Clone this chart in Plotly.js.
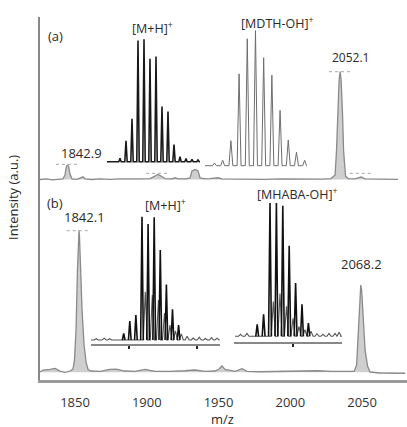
<!DOCTYPE html>
<html>
<head>
<meta charset="utf-8">
<script src="https://cdn.plot.ly/plotly-3.0.1.min.js"></script>
<style>html,body{margin:0;padding:0;background:#fff}#chart{width:407px;height:427px}</style>
</head>
<body>
<div id="chart"></div>
<script>
// ---------- DATA ----------
// Panel (a) full spectrum
const mzA = [1825.6,1829.8,1834.0,1838.1,1841.6,1843.0,1844.1,1844.8,1845.5,1846.5,1847.9,1851.4,1854.2,1855.6,1857.0,1861.8,1867.4,1874.4,1881.4,1888.3,1895.3,1902.3,1905.7,1907.8,1909.9,1912.7,1917.6,1919.7,1921.8,1927.3,1930.1,1931.5,1933.6,1935.7,1937.1,1940.6,1944.1,1949.6,1952.4,1961.5,1971.9,1982.4,1992.9,2003.3,2013.8,2022.1,2028.4,2031.2,2032.2,2032.9,2034.0,2034.7,2035.4,2036.4,2037.1,2038.5,2040.3,2045.1,2049.3,2052.1,2059.1,2066.0,2075.1];
const intA = [0,0.5,-0.3,0.5,0.6,4.2,12.5,13.4,12.5,5.1,0.6,0.2,1.4,2.5,0.6,0,0.5,0.1,0.5,0.2,0.5,0.9,2.8,4.6,3.2,0.8,0.6,1.6,0.6,0.5,1.4,7.9,9.3,7.9,1.4,0.5,0.8,1.6,0.5,0.3,0.5,0.2,0.5,0.2,0.5,0.3,0.9,4.2,27,60,92,100,92,60,27,3,0.9,0.6,2.3,0.6,0.3,0.5,0.2];
// Panel (b) full spectrum
const mzB = [1825.6,1827.7,1832.6,1836.1,1839.5,1843.0,1846.5,1848.6,1849.6,1850.7,1851.7,1852.4,1852.8,1853.1,1853.8,1854.9,1856.3,1857.7,1859.1,1861.1,1867.4,1874.4,1878.6,1884.8,1891.8,1898.8,1905.7,1916.2,1926.6,1933.6,1940.6,1947.6,1950.3,1952.4,1954.5,1961.5,1966.4,1969.9,1978.9,1989.4,1999.8,2010.3,2019.3,2028.4,2038.1,2044.4,2046.2,2047.2,2048.3,2049.1,2049.7,2050.7,2052.1,2053.8,2055.6,2062.5,2073.0,2080.0];
const intB = [0.2,1.6,2.0,2.8,0.9,0,0.9,2.3,8.6,29.7,71.9,94.4,100,95.6,75.4,43.8,19.2,7.2,2.0,0.9,0.6,2.1,2.3,0.9,0.6,2.1,0.7,0.6,1.1,1.6,0.6,0.9,2.3,4.4,2.0,0.7,2.5,0.7,0.4,0.6,0.4,0.6,1.1,0.7,0.6,0.6,5.1,22.7,50.8,61.3,57.8,36.8,15.7,4.4,0.2,-0.5,-0.7,-0.7];

// Peak marker bars (dotted) : m/z span and level
const barA_lo = [1836.7,1899.5,2027.0,2041.4];
const barA_hi = [1852.5,1916.2,2043.2,2056.5];
const barA_lvl = [14,5.7,100,5.7];
const barB_lo = [1844.2];
const barB_hi = [1859.3];
const barB_lvl = [99.5];

// Inset isotope patterns (offset in Da from reference isotope, relative intensity)
const isoA1_off = [-1,0,1,2,3,4,5,6,7,8,9,10,11,12];
const isoA1_int = [2.8,17,35,99,100,84,86,45,41,14,4,2.5,2,1.5];
const isoA2_off = [-5,-4,-3,-2,-1,0,1,2,3,4,5,6];
const isoA2_int = [2,4,18.5,68,94,100,80,67,41,19,10,4];
const isoB1_blk_off = [-3,-2,-1,0,1,2,3,4,5,6];
const isoB1_blk_int = [5.4,15.4,20.3,100,94,99.5,73,45,25,12];
const isoB1_gry_off = [-7.5,-6.2,-5.3,0.54,1.69,2.7,3.69,4.59,5.49,6.45,7.4,8.4,9.4,10.4,11.4,12.3];
const isoB1_gry_int = [1,1.5,1,39,36.5,32.4,21.9,12.2,7.3,5,3,1.6,2.2,1.2,2,1.5];
const isoB2_blk_off = [-2,-1,0,1,2,3,4,5,6];
const isoB2_blk_int = [9,16.5,100,100,98,68,40,24,10];
const isoB2_gry_off = [-4.6,-3.6,0.52,1.56,2.58,3.6,4.53,5.45,6.4,7.34,8.28,9.22,10.16,10.8];
const isoB2_gry_int = [1.5,2.2,26,32,22.5,13.5,7.5,5,3.8,1.9,1.5,2.2,2.2,3];
const isoB1_ticks = [-2.18,9.02];
const isoB2_ticks = [3.64];

const xTicks = [1850,1900,1950,2000,2050];
const peakLabelsA = ['1842.9','2052.1'];
const peakLabelsB = ['1842.1','2068.2'];

// ---------- HELPERS ----------
function profile(off, h, w, x0, x1){
  const xs=[x0], ys=[0];
  off.forEach((c,i)=>{ xs.push(c-w,c,c+w); ys.push(0,h[i],0); });
  xs.push(x1); ys.push(0);
  return {x:xs,y:ys};
}
function sticks(off, h, w){
  const xs=[], ys=[];
  off.forEach((c,i)=>{ xs.push(c-w,c,c+w,null); ys.push(0,h[i],0,null); });
  return {x:xs,y:ys};
}
function bars(lo,hi,lvl){
  const xs=[],ys=[];
  lo.forEach((v,i)=>{ xs.push(v,hi[i],null); ys.push(lvl[i],lvl[i],null); });
  return {x:xs,y:ys};
}

const FONT = 'Open Sans, Noto Sans, sans-serif';
const traces = [];
// main spectra
traces.push({x:mzA,y:intA,xaxis:'x',yaxis:'y2',mode:'lines',line:{color:'#8a8a8a',width:1.3},fill:'tozeroy',fillcolor:'rgba(160,160,160,0.5)',hoverinfo:'skip'});
traces.push({x:mzB,y:intB,xaxis:'x',yaxis:'y',mode:'lines',line:{color:'#8a8a8a',width:1.3},fill:'tozeroy',fillcolor:'rgba(160,160,160,0.5)',hoverinfo:'skip'});
const bA = bars(barA_lo,barA_hi,barA_lvl), bB = bars(barB_lo,barB_hi,barB_lvl);
traces.push({x:bA.x,y:bA.y,xaxis:'x',yaxis:'y2',mode:'lines',line:{color:'#b8b8b8',width:1.2,dash:'dot'},hoverinfo:'skip'});
traces.push({x:bB.x,y:bB.y,xaxis:'x',yaxis:'y',mode:'lines',line:{color:'#b8b8b8',width:1.2,dash:'dot'},hoverinfo:'skip'});
// insets
const a1 = profile(isoA1_off,isoA1_int,0.2,-3.17,12.33);
traces.push({x:a1.x,y:a1.y,xaxis:'x3',yaxis:'y3',mode:'lines',line:{color:'#1a1a1a',width:1.6},hoverinfo:'skip'});
const a2 = profile(isoA2_off,isoA2_int,0.24,-6.16,6.28);
traces.push({x:a2.x,y:a2.y,xaxis:'x4',yaxis:'y4',mode:'lines',line:{color:'#6e6e6e',width:1.0},hoverinfo:'skip'});
const b1g = profile(isoB1_gry_off,isoB1_gry_int,0.33,-8.36,12.74);
traces.push({x:b1g.x,y:b1g.y,xaxis:'x5',yaxis:'y5',mode:'lines',line:{color:'#555',width:1.1},hoverinfo:'skip'});
const b1k = sticks(isoB1_blk_off,isoB1_blk_int,0.22);
traces.push({x:b1k.x,y:b1k.y,xaxis:'x5',yaxis:'y5',mode:'lines',line:{color:'#111',width:1.6},hoverinfo:'skip'});
const b2g = profile(isoB2_gry_off,isoB2_gry_int,0.33,-5.47,10.94);
traces.push({x:b2g.x,y:b2g.y,xaxis:'x6',yaxis:'y6',mode:'lines',line:{color:'#555',width:1.1},hoverinfo:'skip'});
const b2k = sticks(isoB2_blk_off,isoB2_blk_int,0.22);
traces.push({x:b2k.x,y:b2k.y,xaxis:'x6',yaxis:'y6',mode:'lines',line:{color:'#111',width:1.6},hoverinfo:'skip'});

// ---------- LAYOUT ----------
const L=40, T=17, W=367, H=363;
const px = x => (x-L)/W;
const py = y => (T+H-y)/H;
const hidden = {visible:false,showgrid:false,zeroline:false};
function ann(text,x,y,size,extra){ return Object.assign({text:text,x:px(x),y:py(y),xref:'paper',yref:'paper',showarrow:false,xanchor:'center',yanchor:'middle',font:{family:FONT,size:size,color:'#2a2a2a'}},extra||{}); }

const layout = {
  width:407,height:427,margin:{l:L,r:0,t:T,b:47},
  paper_bgcolor:'#fff',plot_bgcolor:'rgba(0,0,0,0)',showlegend:false,
  xaxis:{domain:[0,1],range:[1825.6,2081.3],anchor:'y',tickvals:xTicks,ticks:'',showline:true,linecolor:'#9a9a9a',linewidth:3,showgrid:false,zeroline:false,tickfont:{family:FONT,size:13,color:'#333'},ticklabelstandoff:8},
  yaxis:{domain:[0,py(190)],range:[-5.41,128.1],anchor:'x',showline:true,linecolor:'#888',linewidth:2,showticklabels:false,ticks:'',showgrid:false,zeroline:false},
  yaxis2:{domain:[py(190),1],range:[-9.72,150.5],anchor:'x',showline:true,linecolor:'#888',linewidth:2,showticklabels:false,ticks:'',showgrid:false,zeroline:false},
  xaxis3:Object.assign({domain:[px(104),px(204)],range:[-3.667,13],anchor:'y3'},hidden),
  yaxis3:Object.assign({domain:[py(170),py(30)],range:[-6.8,107.6],anchor:'x3'},hidden),
  xaxis4:Object.assign({domain:[px(203),px(310)],range:[-6.40,6.65],anchor:'y4'},hidden),
  yaxis4:Object.assign({domain:[py(172),py(20)],range:[-4.67,107.9],anchor:'x4'},hidden),
  xaxis5:{domain:[px(91),px(220)],range:[-8.36,12.79],anchor:'y5',showline:true,linecolor:'#888',linewidth:1.5,ticks:'outside',ticklen:3,tickwidth:2,tickcolor:'#222',tickvals:isoB1_ticks,showticklabels:false,showgrid:false,zeroline:false},
  yaxis5:Object.assign({domain:[py(344.3),py(200)],range:[-3.49,113.5],anchor:'x5'},hidden),
  xaxis6:{domain:[px(234),px(342)],range:[-5.625,11.25],anchor:'y6',showline:true,linecolor:'#888',linewidth:1.5,ticks:'outside',ticklen:3,tickwidth:2,tickcolor:'#222',tickvals:isoB2_ticks,showticklabels:false,showgrid:false,zeroline:false},
  yaxis6:Object.assign({domain:[py(342),py(195)],range:[-4.28,106],anchor:'x6'},hidden),
  annotations:[
    ann('(a)',55,36,13),
    ann('[M+H]<sup>+</sup>',152,28,12.5),
    ann('[MDTH-OH]<sup>+</sup>',277,23,12.5),
    ann(peakLabelsA[0],81,153,13),
    ann(peakLabelsA[1],350,57,12),
    ann('(b)',55,203,13),
    ann('[M+H]<sup>+</sup>',165,205,12.5),
    ann('[MHABA-OH]<sup>+</sup>',297,194,12.5),
    ann(peakLabelsB[0],84,217,13),
    ann(peakLabelsB[1],361,264,13),
    ann('Intensity (a.u.)',13,198,13,{textangle:-90}),
    ann('m/z',222,419,13)
  ]
};
Plotly.newPlot('chart',traces,layout,{staticPlot:true,displayModeBar:false});
</script>
</body>
</html>
